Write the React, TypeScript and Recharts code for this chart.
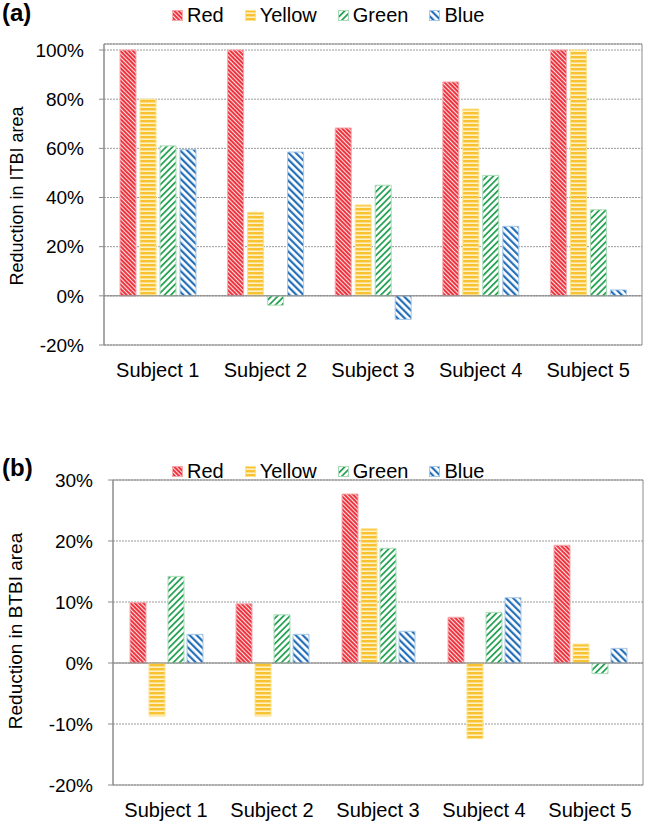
import React from "react";
import {
  BarChart, Bar, XAxis, YAxis, CartesianGrid, ReferenceLine, ReferenceArea,
} from "recharts";

const subjects = ["Subject 1", "Subject 2", "Subject 3", "Subject 4", "Subject 5"];
const seriesNames = ["Red", "Yellow", "Green", "Blue"];

// (a) reduction in ITBI area, %
const itbiRed = [100, 100, 68.3, 87, 100];
const itbiYellow = [80, 34, 37, 76, 100];
const itbiGreen = [61, -3.8, 45, 49, 35];
const itbiBlue = [59.5, 58.5, -9.6, 28.3, 2.4];
const itbiTicks = [-20, 0, 20, 40, 60, 80, 100];

// (b) reduction in BTBI area, %
const btbiRed = [9.9, 9.7, 27.7, 7.5, 19.3];
const btbiYellow = [-8.7, -8.7, 22, -12.4, 3.1];
const btbiGreen = [14.2, 7.9, 18.8, 8.3, -1.75];
const btbiBlue = [4.7, 4.7, 5.2, 10.7, 2.4];
const btbiTicks = [-20, -10, 0, 10, 20, 30];

const FONT = '"Liberation Sans", Arial, sans-serif';

const styles: Record<string, { stroke: string }> = {
  Red: { stroke: "#f6a9ad" },
  Yellow: { stroke: "#fde28c" },
  Green: { stroke: "#a9dcb6" },
  Blue: { stroke: "#a7c7e8" },
};

function Patterns({ p }: { p: string }) {
  return (
    <defs>
      <pattern id={`${p}Red`} width="3" height="3" patternUnits="userSpaceOnUse" patternTransform="rotate(-45)">
        <rect width="3" height="3" fill="#fde3e4" />
        <rect width="2" height="3" fill="#ee3540" />
      </pattern>
      <pattern id={`${p}Yellow`} width="4" height="4" patternUnits="userSpaceOnUse">
        <rect width="4" height="4" fill="#fff2c2" />
        <rect width="4" height="2.4" fill="#f8c232" />
      </pattern>
      <pattern id={`${p}Green`} width="4.5" height="4.5" patternUnits="userSpaceOnUse" patternTransform="rotate(45)">
        <rect width="4.5" height="4.5" fill="#ffffff" />
        <rect width="1.8" height="4.5" fill="#2aa457" />
      </pattern>
      <pattern id={`${p}Blue`} width="5" height="5" patternUnits="userSpaceOnUse" patternTransform="rotate(-45)">
        <rect width="5" height="5" fill="#ffffff" />
        <rect width="2.2" height="5" fill="#2670b8" />
      </pattern>
    </defs>
  );
}

function makeRows(r: number[], y: number[], g: number[], b: number[]) {
  return subjects.map((name, i) => ({ name, Red: r[i], Yellow: y[i], Green: g[i], Blue: b[i] }));
}

const itbiData = makeRows(itbiRed, itbiYellow, itbiGreen, itbiBlue);
const btbiData = makeRows(btbiRed, btbiYellow, btbiGreen, btbiBlue);

function Legend({ top }: { top: number }) {
  return (
    <div style={{ position: "absolute", top, left: 172, display: "flex", alignItems: "center", fontFamily: FONT, fontSize: 20, color: "#000", lineHeight: "24px" }}>
      <svg width="0" height="0" style={{ position: "absolute" }}>
        <Patterns p="lg" />
      </svg>
      {seriesNames.map((s) => (
        <div key={s} style={{ display: "flex", alignItems: "center", marginRight: 21 }}>
          <svg width="11" height="11" style={{ marginRight: 4 }}>
            <rect x="0.5" y="0.5" width="10" height="10" fill={`url(#lg${s})`} stroke={styles[s].stroke} />
          </svg>
          <span>{s}</span>
        </div>
      ))}
    </div>
  );
}

function YTitle({ text, cx, cy, size }: { text: string; cx: number; cy: number; size: number }) {
  return (
    <div style={{ position: "absolute", left: cx, top: cy, transform: "translate(-50%, -50%) rotate(-90deg)", whiteSpace: "nowrap", fontFamily: FONT, fontSize: size, color: "#000" }}>
      {text}
    </div>
  );
}

function Panel({ p, domain, ticks, tickMargin, xHeight }: { p: string; domain: number[]; ticks: number[]; tickMargin: number; xHeight: number }) {
  return (
    <>
      <Patterns p={p} />
      <CartesianGrid horizontal vertical={false} stroke="#9a9a9a" strokeDasharray="2 1" />
      <ReferenceArea y1={domain[0]} y2={domain[1]} fill="none" fillOpacity={0} stroke="#8c8c8c" strokeWidth={1} />
      <XAxis dataKey="name" axisLine={false} tickLine={false} tickSize={6} tickMargin={12} height={xHeight}
        tick={{ fontSize: 20, fill: "#000", fontFamily: FONT }} interval={0} />
      <YAxis domain={domain} ticks={ticks} width={60} interval={0} allowDataOverflow
        axisLine={{ stroke: "#8c8c8c" }} tickLine={{ stroke: "#8c8c8c" }} tickSize={5} tickMargin={tickMargin}
        tickFormatter={(v: number) => `${v}%`} tick={{ fontSize: 19, fill: "#000", fontFamily: FONT }} />
      <ReferenceLine y={0} stroke="#7f7f7f" strokeWidth={1} />
      {seriesNames.map((s) => (
        <Bar key={s} dataKey={s} fill={`url(#${p}${s})`} stroke={styles[s].stroke} strokeWidth={1} isAnimationActive={false} />
      ))}
    </>
  );
}

export default function App() {
  return (
    <div style={{ position: "absolute", left: 0, top: 0, width: 646, height: 823, background: "#fff", fontFamily: FONT }}>
      <div style={{ position: "absolute", left: 2, top: -1, fontSize: 24, fontWeight: "bold" }}>(a)</div>
      <div style={{ position: "absolute", left: 2, top: 454, fontSize: 24, fontWeight: "bold" }}>(b)</div>
      <Legend top={3} />
      <Legend top={459} />
      <YTitle text="Reduction in ITBI area" cx={17} cy={196} size={18} />
      <YTitle text="Reduction in BTBI area" cx={16} cy={631} size={19} />

      <div style={{ position: "absolute", left: 0, top: 0 }}>
        <BarChart width={646} height={400} data={itbiData} barSize={16} barGap={4}
          margin={{ top: 44, right: 4, left: 44, bottom: 0 }}>
          {Panel({ p: "a", domain: [-20, 102.45], ticks: itbiTicks, tickMargin: 15, xHeight: 55 })}
        </BarChart>
      </div>
      <div style={{ position: "absolute", left: 0, top: 440 }}>
        <BarChart width={646} height={383} data={btbiData} barSize={16} barGap={3}
          margin={{ top: 40, right: 3, left: 53, bottom: 0 }}>
          {Panel({ p: "b", domain: [-20, 30], ticks: btbiTicks, tickMargin: 15, xHeight: 38 })}
        </BarChart>
      </div>
    </div>
  );
}
